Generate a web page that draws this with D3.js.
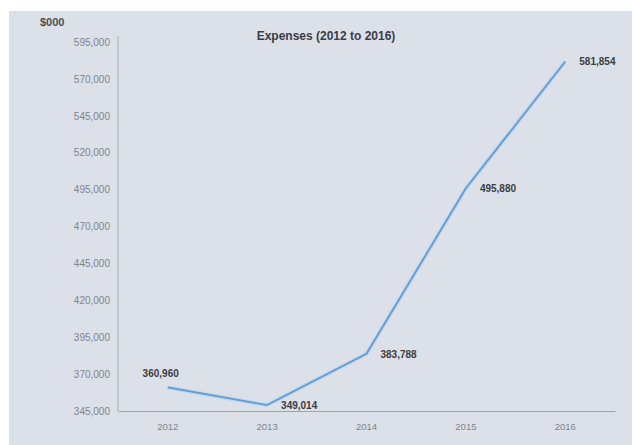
<!DOCTYPE html>
<html>
<head>
<meta charset="utf-8">
<script src="https://cdn.jsdelivr.net/npm/d3@7"></script>
<style>
  html, body { margin: 0; padding: 0; background: #ffffff; }
  svg { display: block; }
</style>
</head>
<body>
<svg id="chart" width="634" height="445"></svg>
<script>
// Annual expenses, in thousands of dollars
const years = ["2012", "2013", "2014", "2015", "2016"];
const expenses = [360960, 349014, 383788, 495880, 581854];
const valueLabels = ["360,960", "349,014", "383,788", "495,880", "581,854"];
const yTicks = [345000, 370000, 395000, 420000, 445000, 470000, 495000, 520000, 545000, 570000, 595000];

const svg = d3.select("#chart");
const W = 634, H = 445;
const plot = { left: 118, right: 615, top: 42, bottom: 411 };

// Chart area background
svg.append("rect")
  .attr("x", 9).attr("y", 11)
  .attr("width", 623).attr("height", H - 11)
  .attr("fill", "#dce0e8");

const x = d3.scaleBand().domain(years).range([plot.left, plot.right]);
const y = d3.scaleLinear().domain([345000, 595000]).range([plot.bottom, plot.top]);

const fmt = d3.format(",");

// Y axis
const yAxis = svg.append("g")
  .attr("transform", `translate(${plot.left},0)`)
  .call(d3.axisLeft(y).tickValues(yTicks).tickFormat(fmt).tickSize(0).tickPadding(8));
yAxis.select(".domain").attr("stroke", "#a9adb4").attr("stroke-width", 1)
  .attr("d", `M0,${plot.top - 6}V${plot.bottom}`);
yAxis.selectAll("text")
  .attr("fill", "#80848c")
  .style("font-family", "'Liberation Sans', Arial, sans-serif")
  .style("font-size", "10px");

// X axis
const xAxis = svg.append("g")
  .attr("transform", `translate(0,${plot.bottom})`)
  .call(d3.axisBottom(x).tickSize(0).tickPadding(12));
xAxis.select(".domain").attr("stroke", "#9ea3ab").attr("stroke-width", 1.2);
xAxis.selectAll("text")
  .attr("fill", "#80848c")
  .style("font-family", "'Liberation Sans', Arial, sans-serif")
  .style("font-size", "9.5px");

// Units label
svg.append("text")
  .attr("x", 40).attr("y", 26)
  .attr("fill", "#4a4e54")
  .style("font-family", "'Liberation Sans', Arial, sans-serif")
  .style("font-size", "11px")
  .style("font-weight", "bold")
  .text("$000");

// Title
svg.append("text")
  .attr("x", 326).attr("y", 40)
  .attr("text-anchor", "middle")
  .attr("fill", "#3a3d42")
  .style("font-family", "'Liberation Sans', Arial, sans-serif")
  .style("font-size", "12px")
  .style("font-weight", "bold")
  .text("Expenses (2012 to 2016)");

const points = years.map((yr, i) => ({ year: yr, value: expenses[i], label: valueLabels[i] }));

// Line: soft halo under a darker core stroke
const line = d3.line()
  .x(d => x(d.year) + x.bandwidth() / 2)
  .y(d => y(d.value));

svg.append("path")
  .datum(points)
  .attr("fill", "none")
  .attr("stroke", "#bcd5ee")
  .attr("stroke-width", 4)
  .attr("stroke-linejoin", "round")
  .attr("d", line);
svg.append("path")
  .datum(points)
  .attr("fill", "none")
  .attr("stroke", "#639ad0")
  .attr("stroke-width", 1.7)
  .attr("stroke-linejoin", "round")
  .attr("d", line);

// Value labels
svg.append("g").selectAll("text")
  .data(points)
  .join("text")
  .attr("x", (d, i) => x(d.year) + x.bandwidth() / 2 + (i === 0 ? -7 : 14))
  .attr("y", (d, i) => y(d.value) + (i === 0 ? -10 : 4))
  .attr("text-anchor", (d, i) => i === 0 ? "middle" : "start")
  .attr("fill", "#3a3d42")
  .style("font-family", "'Liberation Sans', Arial, sans-serif")
  .style("font-size", "10px")
  .style("font-weight", "bold")
  .text(d => d.label);
</script>
</body>
</html>
